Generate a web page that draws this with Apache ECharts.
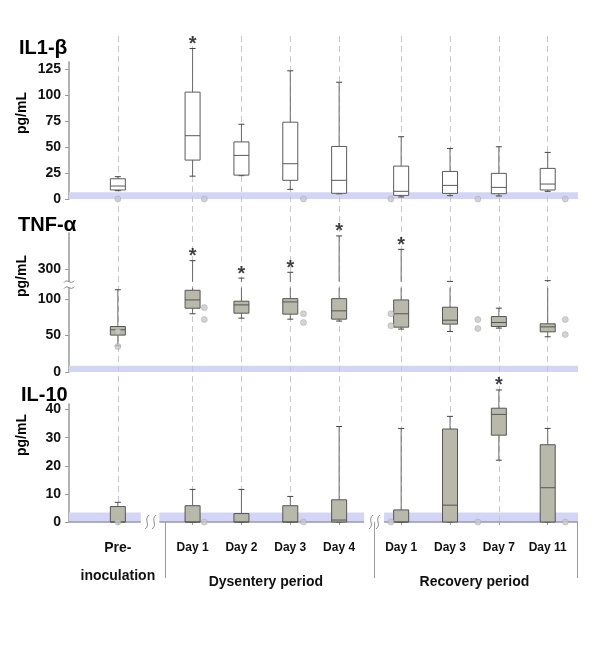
<!DOCTYPE html>
<html><head><meta charset="utf-8">
<script src="https://cdn.jsdelivr.net/npm/echarts@6/dist/echarts.min.js"></script>
<style>html,body{margin:0;padding:0;background:#fff}#c{width:600px;height:652px}</style>
</head><body><div id="c"></div><script>
// ---------- data ----------
const categories = ['Pre-inoculation', 'Day 1', 'Day 2', 'Day 3', 'Day 4', 'Day 1', 'Day 3', 'Day 7', 'Day 11'];
const groupNames = ['Dysentery period', 'Recovery period'];
const groupMembers = [[1, 2, 3, 4], [5, 6, 7, 8]];
const panelTitles = ['IL1-', 'TNF-', 'IL-10'];
const panelGreek = ['β', 'α', ''];
const unitLabel = 'pg/mL';
// [min, Q1, median, Q3, max]
const il1Box = [[8, 8.7, 12.5, 19.5, 21.5], [22, 37.5, 61, 103, 145], [22.5, 23, 42, 55, 72], [9.3, 18, 34, 74, 123.5], [5, 5.5, 18, 50.6, 112.5], [2, 3.5, 7.4, 31.7, 60], [3.2, 5.4, 13.1, 26.6, 48.7], [2.9, 5.1, 11.2, 24.7, 50.3], [7.4, 8.7, 14.4, 29.5, 44.9]];
const tnfBox = [[36, 50.7, 58, 62.5, 113], [80, 87.6, 99, 112.3, 312], [74, 80.8, 92.2, 97.3, 288], [72.6, 79.5, 96.3, 100.8, 296], [70, 72.6, 84, 100.8, 346], [59, 61.6, 80, 99, 327.5], [55.6, 65.8, 71.2, 89, 283.5], [60.3, 62.5, 68, 76.2, 87.7], [48.4, 55.2, 62, 66.2, 284.5]];
const il10Box = [[0, 0, 0, 5.5, 7], [0, 0, 0, 5.8, 11.6], [0, 0, 0, 3, 11.6], [0, 0, 0, 5.8, 9.1], [0, 0, 0.7, 7.9, 34], [0, 0, 0, 4.3, 33.3], [0, 0, 6, 33.1, 37.6], [22, 30.9, 38.3, 40.5, 47], [0, 0, 12.2, 27.5, 33.3]];
// outliers: [category index, value]
const il1Out = [[0, 0], [1, 0], [3, 0], [5, 0], [6, 0], [8, 0]];
const tnfOut = [[0, 55.6], [0, 35], [1, 88.5], [1, 72], [3, 80], [3, 68], [5, 80], [5, 63.4], [6, 72], [6, 59.7], [8, 72], [8, 51.5]];
const il10Out = [[0, 0], [1, 0], [3, 0], [5, 0], [6, 0], [8, 0]];
// significance stars: category indices
const il1Star = [1];
const tnfStar = [1, 2, 3, 4, 5];
const il10Star = [7];
// detection limit band
const detectLimit = [6.5, 8.5, 3.4];
const il1Ticks = [0, 25, 50, 75, 100, 125];
const tnfTicks = [0, 50, 100, 300];
const il10Ticks = [0, 10, 20, 30, 40];

// ---------- layout ----------
const F = '"Liberation Sans", Arial, sans-serif';
const catPos = [0, 1.53, 2.53, 3.53, 4.53, 5.8, 6.8, 7.8, 8.8];
const XMIN = -1, XMAX = 9.42;
const outShift = {0: 0, 1: 0.24, 3: 0.27, 5: -0.21, 6: 0.57, 8: 0.36};
const sepPos = [0.98, 5.25, 9.41];
const xBreaks = [0.66, 5.245];
const bandSegsBottom = [[XMIN, 0.47], [0.85, 5.04], [5.45, XMAX]];
const tnfBreak = {start: 116, end: 283, gap: 8};
const grids = [
  {left: 69, width: 509, top: 33, height: 489},
  {left: 69, width: 509, top: 62, height: 137},
  {left: 69, width: 509, top: 233, height: 139},
  {left: 69, width: 509, top: 404, height: 118}
];

const BAND = 'rgb(211,213,248)';
const AX = '#9a9a9a';

function boxRender(fill, stroke, brk) {
  return function (params, api) {
    const x = api.value(0);
    const vals = [1, 2, 3, 4, 5].map(k => api.value(k));
    const cy = v => api.coord([x, v])[1];
    const cx = api.coord([x, 0])[0];
    const y = vals.map(cy);
    const hw = 7.5, cw = 3;
    const ch = [];
    const seg = (a, b) => {
      const parts = (brk && a < brk.start && b > brk.end) ? [[a, brk.start], [brk.end, b]] : [[a, b]];
      parts.forEach(p => ch.push({type: 'line', shape: {x1: cx, y1: cy(p[0]), x2: cx, y2: cy(p[1])}, style: {stroke: '#6a6a6a', lineWidth: 1}}));
    };
    seg(vals[3], vals[4]);
    seg(vals[0], vals[1]);
    ch.push({type: 'line', shape: {x1: cx - cw, y1: y[4], x2: cx + cw, y2: y[4]}, style: {stroke: '#444', lineWidth: 1}});
    ch.push({type: 'line', shape: {x1: cx - cw, y1: y[0], x2: cx + cw, y2: y[0]}, style: {stroke: '#444', lineWidth: 1}});
    ch.push({type: 'rect', shape: {x: cx - hw, y: y[3], width: 2 * hw, height: y[1] - y[3]}, style: {fill: fill, stroke: stroke, lineWidth: 1}});
    ch.push({type: 'line', shape: {x1: cx - hw, y1: y[2], x2: cx + hw, y2: y[2]}, style: {stroke: stroke, lineWidth: 1}});
    return {type: 'group', children: ch};
  };
}

function boxSeries(idx, box, fill, stroke, brk) {
  return {
    type: 'custom', xAxisIndex: idx, yAxisIndex: idx, z: 5, clip: false, silent: true,
    data: box.map((b, i) => [catPos[i]].concat(b)),
    encode: {x: 0, y: [1, 2, 3, 4, 5]},
    renderItem: boxRender(fill, stroke, brk)
  };
}
function outSeries(idx, outs) {
  return {
    type: 'scatter', xAxisIndex: idx, yAxisIndex: idx, z: 6, silent: true, clip: false,
    symbol: 'circle', symbolSize: 6,
    itemStyle: {color: '#c8c8c8', borderColor: '#a5a5a5', borderWidth: 0.6},
    data: outs.map(o => [catPos[o[0]] + outShift[o[0]], o[1]])
  };
}
function starSeries(idx, stars, box) {
  return {
    type: 'scatter', xAxisIndex: idx, yAxisIndex: idx, z: 7, silent: true, clip: false,
    symbolSize: 1, itemStyle: {color: 'rgba(0,0,0,0)'},
    label: {show: true, position: 'inside', offset: [0, -4], formatter: '*', fontSize: 20, fontWeight: 'bold', fontFamily: F, color: '#111'},
    data: stars.map(i => [catPos[i], box[i][4]])
  };
}
function bandSeries(idx, limit, segs) {
  return {
    type: 'scatter', xAxisIndex: idx, yAxisIndex: idx, z: 1, silent: true, data: [],
    markArea: {silent: true, itemStyle: {color: BAND}, data: segs.map(s => [{coord: [s[0], 0]}, {coord: [s[1], limit]}])}
  };
}
function yAxisFor(idx, max, interval, ticks, extra) {
  return Object.assign({
    gridIndex: idx, type: 'value', min: 0, max: max, interval: interval,
    axisLine: {show: true, onZero: false, lineStyle: {color: AX, width: 1.5}},
    axisTick: {show: true, customValues: ticks, length: 4, lineStyle: {color: AX}},
    splitLine: {show: false},
    axisLabel: {customValues: ticks, margin: 8, fontSize: 14, fontWeight: 'bold', fontFamily: F, color: '#111'}
  }, extra || {});
}
function hiddenX(idx) {
  return {gridIndex: idx, type: 'value', min: XMIN, max: XMAX, show: false, axisLine: {onZero: false}};
}
function nearestIdx(arr, v) {
  let bi = 0;
  arr.forEach((p, i) => { if (Math.abs(p - v) < Math.abs(arr[bi] - v)) bi = i; });
  return bi;
}
const groupCenters = groupMembers.map(m => (catPos[m[0]] + catPos[m[m.length - 1]]) / 2);

const chart = echarts.init(document.getElementById('c'), null, {renderer: 'canvas'});
const titleTops = [38, 215, 385];
const titleLefts = [19, 18, 21];
const unitYs = [113, 276, 435];

const option = {
  animation: false,
  backgroundColor: '#fff',
  title: panelTitles.map((t, i) => ({
    text: '{b|' + t + '}' + (panelGreek[i] ? '{g|' + panelGreek[i] + '}' : ''),
    left: titleLefts[i], top: titleTops[i], padding: 0,
    textStyle: {rich: {b: {fontSize: 20, fontWeight: 'bold', fontFamily: F, color: '#000'}, g: {fontSize: 21, fontFamily: F, color: '#000'}}}
  })),
  graphic: unitYs.map(y => ({
    type: 'text', x: 22, y: y, rotation: Math.PI / 2, silent: true,
    style: {text: unitLabel, font: 'bold 14px ' + F, fill: '#000', align: 'center', verticalAlign: 'middle', textAlign: 'center', textVerticalAlign: 'middle'}
  })),
  grid: grids.map(g => Object.assign({containLabel: false}, g)),
  xAxis: [
    hiddenX(0), hiddenX(1), hiddenX(2),
    {
      gridIndex: 3, type: 'value', min: XMIN, max: XMAX,
      axisLine: {show: false, onZero: false}, splitLine: {show: false},
      axisTick: {show: true, customValues: catPos, length: 3, lineStyle: {color: AX}},
      axisLabel: {
        customValues: catPos, margin: 19, color: '#111',
        formatter: v => {
          const i = nearestIdx(catPos, v);
          return i === 0 ? '{p1|Pre-}\n{p2|inoculation}' : '{d|' + categories[i] + '}';
        },
        rich: {
          p1: {fontSize: 14, fontWeight: 'bold', fontFamily: F, lineHeight: 14, color: '#111'},
          p2: {fontSize: 14, fontWeight: 'bold', fontFamily: F, lineHeight: 42, color: '#111'},
          d: {fontSize: 12, fontWeight: 'bold', fontFamily: F, lineHeight: 14, color: '#111'}
        }
      }
    },
    {
      gridIndex: 3, type: 'value', min: XMIN, max: XMAX, position: 'bottom',
      axisLine: {show: false, onZero: false}, splitLine: {show: false},
      axisTick: {show: true, customValues: sepPos, length: 56, lineStyle: {color: AX, width: 1}},
      axisLabel: {
        customValues: groupCenters, margin: 53, fontSize: 14, fontWeight: 'bold', fontFamily: F, color: '#111',
        formatter: v => groupNames[nearestIdx(groupCenters, v)]
      }
    }
  ],
  yAxis: [
    {gridIndex: 0, type: 'value', min: 0, max: 1, show: false},
    yAxisFor(1, 132, 25, il1Ticks),
    yAxisFor(2, 350, 50, tnfTicks, {breaks: [tnfBreak], breakArea: {show: false, expandOnClick: false}}),
    yAxisFor(3, 42, 10, il10Ticks)
  ],
  series: [
    {
      type: 'scatter', xAxisIndex: 0, yAxisIndex: 0, z: 0, silent: true, data: [],
      markLine: {
        silent: true, symbol: ['none', 'none'], label: {show: false},
        lineStyle: {color: '#c8c8c8', type: [6, 4], width: 1},
        data: catPos.map(p => ({xAxis: p}))
      }
    },
    bandSeries(1, detectLimit[0], [[XMIN, XMAX]]),
    bandSeries(2, detectLimit[1], [[XMIN, XMAX]]),
    bandSeries(3, detectLimit[2], bandSegsBottom),
    // bottom axis line segments
    {
      type: 'scatter', xAxisIndex: 3, yAxisIndex: 3, z: 3, silent: true, data: [],
      markLine: {
        silent: true, symbol: ['none', 'none'], label: {show: false},
        lineStyle: {color: AX, type: 'solid', width: 1.5},
        data: bandSegsBottom.map(s => [{coord: [s[0], 0]}, {coord: [s[1], 0]}])
      }
    },
    boxSeries(1, il1Box, '#ffffff', '#5a5a5a'),
    boxSeries(2, tnfBox, '#b9b9aa', '#555555', tnfBreak),
    boxSeries(3, il10Box, '#b9b9aa', '#555555'),
    outSeries(1, il1Out), outSeries(2, tnfOut), outSeries(3, il10Out),
    starSeries(1, il1Star, il1Box), starSeries(2, tnfStar, tnfBox), starSeries(3, il10Star, il10Box),
    // x-axis break marks
    {
      type: 'custom', xAxisIndex: 3, yAxisIndex: 3, z: 8, clip: false, silent: true,
      data: xBreaks.map(b => [b, 0]),
      renderItem: (params, api) => {
        const p = api.coord([api.value(0), api.value(1)]);
        const mk = dx => ({type: 'bezierCurve', shape: {x1: p[0] + dx + 2, y1: p[1] - 7, cpx1: p[0] + dx - 4, cpy1: p[1] - 2, cpx2: p[0] + dx + 4, cpy2: p[1] + 2, x2: p[0] + dx - 2, y2: p[1] + 7}, style: {stroke: '#888', lineWidth: 1, fill: null}});
        return {type: 'group', children: [mk(-3), mk(4)]};
      }
    },
    // y-axis break mark (TNF)
    {
      type: 'custom', xAxisIndex: 2, yAxisIndex: 2, z: 8, clip: false, silent: true,
      data: [[XMIN, (tnfBreak.start + tnfBreak.end) / 2]],
      renderItem: (params, api) => {
        const p = api.coord([api.value(0), api.value(1)]);
        const mk = dy => ({type: 'bezierCurve', shape: {x1: p[0] - 5, y1: p[1] + dy + 1, cpx1: p[0] - 2, cpy1: p[1] + dy - 4, cpx2: p[0] + 2, cpy2: p[1] + dy + 4, x2: p[0] + 5, y2: p[1] + dy - 1}, style: {stroke: '#888', lineWidth: 1, fill: null}});
        return {type: 'group', children: [
          {type: 'rect', shape: {x: p[0] - 3, y: p[1] - 3, width: 6, height: 6}, style: {fill: '#fff'}},
          mk(-3), mk(3)
        ]};
      }
    }
  ]
};
chart.setOption(option);
</script></body></html>
